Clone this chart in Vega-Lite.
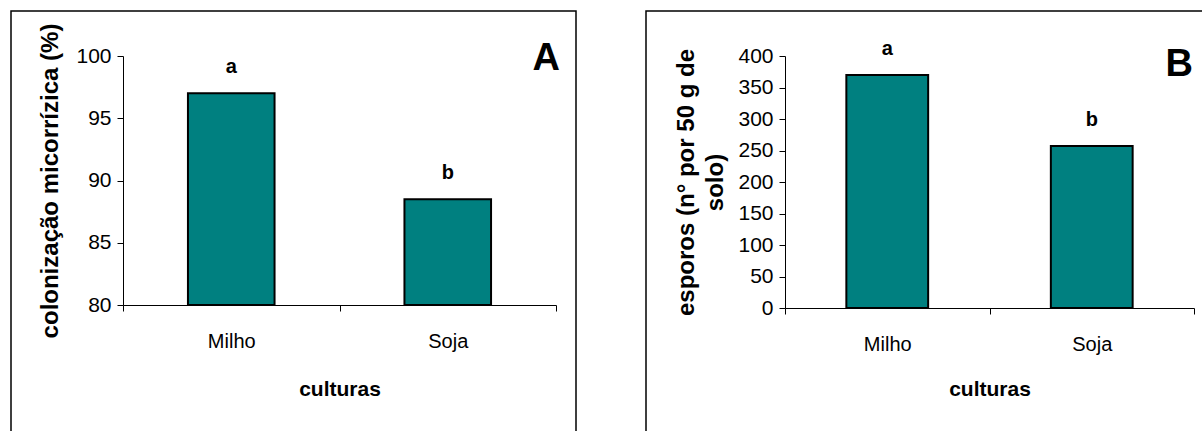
{
  "$schema": "https://vega.github.io/schema/vega-lite/v6.json",
  "padding": {"left": 10, "top": 10, "right": 0, "bottom": 0},
  "background": "white",
  "config": {
    "font": "Liberation Sans",
    "view": {"stroke": "black", "strokeWidth": 1.5},
    "axis": {
      "domainColor": "black", "tickColor": "black", "labelColor": "black", "titleColor": "black",
      "grid": false, "labelFont": "Liberation Sans", "titleFont": "Liberation Sans",
      "labelFontSize": 20, "tickSize": 6, "domainWidth": 1, "tickWidth": 1
    },
    "concat": {"spacing": 68}
  },
  "hconcat": [
    {
      "width": 565, "height": 430,
      "title": {"text": "A", "anchor": "end", "fontSize": 38, "fontWeight": "bold", "font": "Liberation Sans", "color": "black", "offset": -67, "dx": -16},
      "data": {"values": [
        {"cultura": "Milho", "valor": 97, "letra": "a"},
        {"cultura": "Soja", "valor": 88.5, "letra": "b"}
      ]},
      "encoding": {
        "x": {"field": "cultura", "type": "nominal", "sort": null,
          "scale": {"range": [112, 545], "paddingInner": 0, "paddingOuter": 0},
          "axis": {"title": "culturas", "labelAngle": 0, "tickBand": "extent", "offset": -136, "labelPadding": 20, "labelFontSize": 20, "titlePadding": 27, "titleFontSize": 21, "titleFontWeight": "bold"}}
      },
      "layer": [
        {
          "mark": {"type": "bar", "width": {"band": 0.4}, "fill": "#008080", "stroke": "black", "strokeWidth": 2},
          "encoding": {
            "y": {"field": "valor", "type": "quantitative",
              "scale": {"domain": [80, 100], "range": [294, 45], "zero": false, "nice": false},
              "axis": {"values": [80, 85, 90, 95, 100], "title": "colonização micorrízica (%)", "offset": -112, "labelPadding": 6, "labelFontSize": 21, "titlePadding": 13, "titleFontSize": 24, "titleFontWeight": "bold"}},
            "y2": {"datum": 80}
          }
        },
        {
          "mark": {"type": "text", "dy": -26, "fontSize": 20, "fontWeight": "bold", "baseline": "middle", "color": "black"},
          "encoding": {
            "y": {"field": "valor", "type": "quantitative"},
            "text": {"field": "letra"}
          }
        }
      ]
    },
    {
      "width": 565, "height": 430,
      "title": {"text": "B", "anchor": "end", "fontSize": 38, "fontWeight": "bold", "font": "Liberation Sans", "color": "black", "offset": -73, "dx": -18},
      "data": {"values": [
        {"cultura": "Milho", "valor": 370, "letra": "a"},
        {"cultura": "Soja", "valor": 257, "letra": "b"}
      ]},
      "encoding": {
        "x": {"field": "cultura", "type": "nominal", "sort": null,
          "scale": {"range": [139, 548], "paddingInner": 0, "paddingOuter": 0},
          "axis": {"title": "culturas", "labelAngle": 0, "tickBand": "extent", "offset": -133, "labelPadding": 20, "labelFontSize": 20, "titlePadding": 24, "titleFontSize": 21, "titleFontWeight": "bold"}}
      },
      "layer": [
        {
          "mark": {"type": "bar", "width": {"band": 0.4}, "fill": "#008080", "stroke": "black", "strokeWidth": 2},
          "encoding": {
            "y": {"field": "valor", "type": "quantitative",
              "scale": {"domain": [0, 400], "range": [297, 45], "nice": false},
              "axis": {"values": [0, 50, 100, 150, 200, 250, 300, 350, 400], "title": ["esporos (n° por 50 g de", "solo)"], "offset": -139, "labelPadding": 6, "labelFontSize": 21, "titlePadding": 10, "titleFontSize": 24, "titleFontWeight": "bold", "titleLineHeight": 29}}
          }
        },
        {
          "mark": {"type": "text", "dy": -26, "fontSize": 20, "fontWeight": "bold", "baseline": "middle", "color": "black"},
          "encoding": {
            "y": {"field": "valor", "type": "quantitative"},
            "text": {"field": "letra"}
          }
        }
      ]
    }
  ]
}
